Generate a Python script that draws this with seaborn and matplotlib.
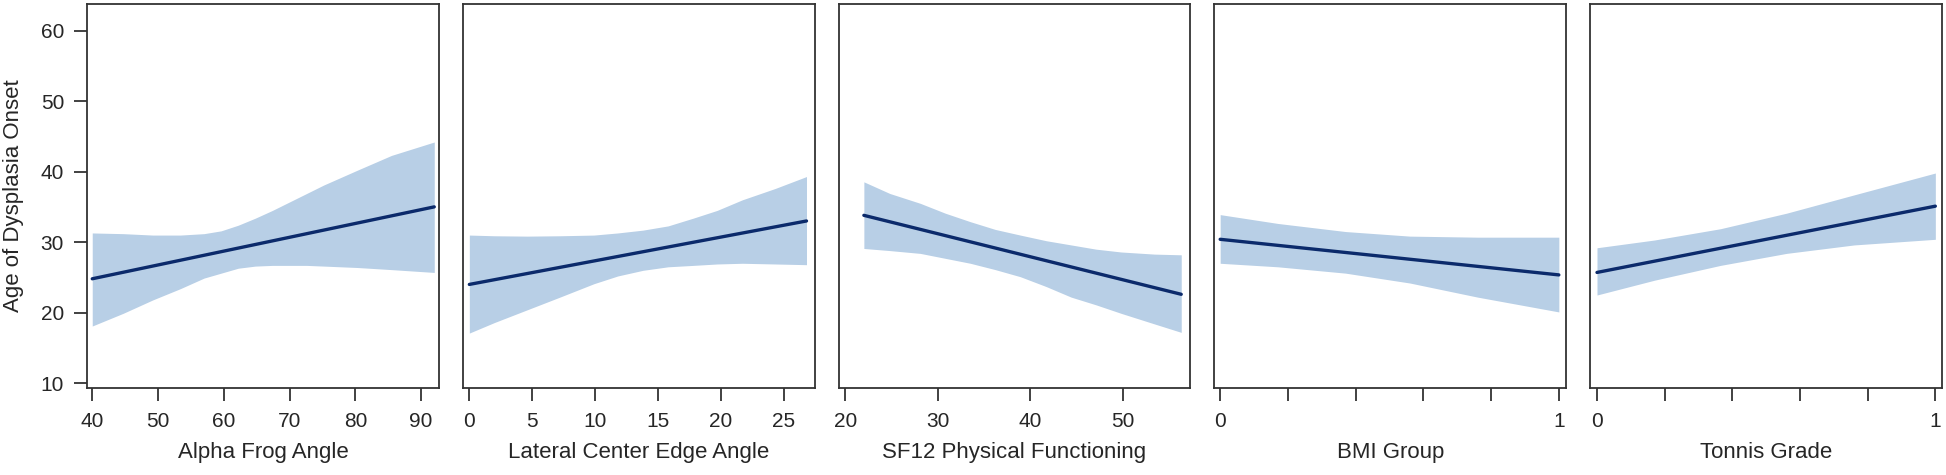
import numpy as np
import pandas as pd
import seaborn as sns
import matplotlib.pyplot as plt

# panel titles (x labels)
labels = ["Alpha Frog Angle", "Lateral Center Edge Angle", "SF12 Physical Functioning",
          "BMI Group", "Tonnis Grade"]

# fitted line end points
line_x = [[40, 92], [0, 26.8], [22, 56.3], [0, 1], [0, 1]]
line_y = [[24.8, 35.0], [24.0, 33.0], [33.8, 22.6], [30.4, 25.35], [25.7, 35.1]]

# confidence band
band_x = [
    [40, 44.7, 49.2, 53.4, 57, 59.6, 62.2, 64.8, 67.4, 70, 72.6, 75.2, 80.3, 85.5, 92],
    [0, 2.0, 4.6, 7.2, 9.9, 11.8, 13.8, 15.8, 17.8, 19.7, 21.7, 24.3, 26.8],
    [22, 24.8, 28.1, 30.8, 33.5, 36.2, 38.9, 41.7, 44.4, 47.1, 49.8, 53.4, 56.3],
    [0, 0.17, 0.37, 0.56, 0.76, 1.0],
    [0, 0.17, 0.365, 0.56, 0.76, 1.0],
]
band_hi = [
    [31.3, 31.2, 31.0, 31.0, 31.2, 31.6, 32.4, 33.4, 34.5, 35.7, 36.9, 38.1, 40.2, 42.3, 44.2],
    [31.0, 30.9, 30.85, 30.9, 31.0, 31.3, 31.7, 32.3, 33.4, 34.5, 36.0, 37.6, 39.3],
    [38.55, 36.9, 35.5, 34.1, 32.9, 31.8, 31.0, 30.2, 29.6, 29.0, 28.6, 28.3, 28.2],
    [33.9, 32.65, 31.5, 30.85, 30.7, 30.7],
    [29.2, 30.3, 31.9, 34.1, 36.7, 39.8],
]
band_lo = [
    [18.1, 19.9, 21.8, 23.4, 24.9, 25.6, 26.3, 26.6, 26.7, 26.7, 26.7, 26.6, 26.4, 26.1, 25.7],
    [17.1, 18.6, 20.4, 22.2, 24.1, 25.2, 26.0, 26.5, 26.7, 26.9, 27.0, 26.9, 26.8],
    [29.1, 28.8, 28.4, 27.7, 27.0, 26.1, 25.1, 23.7, 22.2, 21.1, 19.9, 18.4, 17.2],
    [27.0, 26.5, 25.6, 24.2, 22.2, 20.1],
    [22.5, 24.6, 26.7, 28.4, 29.6, 30.4],
]

xlims = [(39.2, 92.7), (-0.52, 27.45), (19.27, 57.3), (-0.017, 1.022), (-0.02, 1.02)]
xticks = [
    [40, 50, 60, 70, 80, 90],
    [0, 5, 10, 15, 20, 25],
    [20, 30, 40, 50],
    [0, 0.2, 0.4, 0.6, 0.8, 1.0],
    [0, 0.2, 0.4, 0.6, 0.8, 1.0],
]
xticklabels = [
    ["40", "50", "60", "70", "80", "90"],
    ["0", "5", "10", "15", "20", "25"],
    ["20", "30", "40", "50"],
    ["0", "", "", "", "", "1"],
    ["0", "", "", "", "", "1"],
]
yticks = [10, 20, 30, 40, 50, 60]

BAND = "#b8cfe6"
LINE = "#0b2a6b"
FRAME = "#333333"


def main():
    sns.set_style("white")
    plt.rcParams["font.family"] = ["Liberation Sans", "DejaVu Sans"]
    plt.rcParams["font.size"] = 15
    plt.rcParams["axes.labelsize"] = 16

    fig, axes = plt.subplots(1, 5, figsize=(19.46, 4.75), dpi=100, sharey=True)
    fig.subplots_adjust(left=0.0447, right=0.998, bottom=0.183, top=0.992, wspace=0.068)

    for i, ax in enumerate(axes):
        ax.fill_between(band_x[i], band_lo[i], band_hi[i], color=BAND, linewidth=0)
        df = pd.DataFrame({"x": line_x[i], "y": line_y[i]})
        sns.lineplot(data=df, x="x", y="y", ax=ax, color=LINE, linewidth=2.4)

        ax.set_xlim(*xlims[i])
        ax.set_ylim(9.3, 63.8)
        ax.set_xticks(xticks[i])
        ax.set_xticklabels(xticklabels[i])
        ax.set_xlabel(labels[i], labelpad=8)
        ax.set_ylabel("")
        for s in ax.spines.values():
            s.set_color(FRAME)
            s.set_linewidth(1.3)
        ax.tick_params(axis="x", direction="out", length=9.5, width=1.3, color=FRAME,
                       pad=8, bottom=True, labelsize=15)
        if i == 0:
            ax.set_yticks(yticks)
            ax.tick_params(axis="y", direction="out", length=9.5, width=1.3, color=FRAME,
                           pad=7, left=True, labelsize=15)
            ax.set_ylabel("Age of Dysplasia Onset", labelpad=12)
        else:
            ax.tick_params(axis="y", left=False, labelleft=False)

    fig.savefig("out.png", dpi=100)
    plt.close(fig)


if __name__ == "__main__":
    main()
